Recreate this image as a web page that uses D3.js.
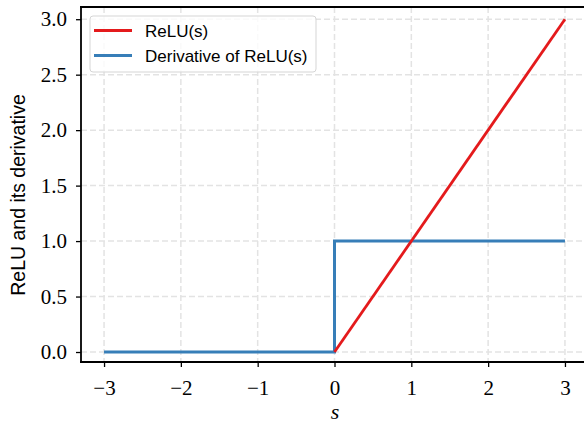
<!DOCTYPE html>
<html>
<head>
<meta charset="utf-8">
<script src="https://cdn.jsdelivr.net/npm/d3@7"></script>
<style>
    body { margin: 0; background: #fff; }
    svg { display: block; }
</style>
</head>
<body>
<svg id="chart" width="584" height="424"></svg>
<script>
// data
let reluS = [0, 3]
let reluY = [0, 3]
let derivS = [-3, 0, 0, 3]
let derivY = [0, 0, 1, 1]
let xTicks = [-3, -2, -1, 0, 1, 2, 3]
let yTicks = [0, 0.5, 1, 1.5, 2, 2.5, 3]
let seriesNames = ['ReLU(s)', 'Derivative of ReLU(s)']
let seriesColors = ['#e41a1c', '#377eb8']

let plotLeft = 81, plotRight = 588, plotTop = 7, plotBottom = 362
let svg = d3.select('#chart')
let xScale = d3.scaleLinear().domain([-3.3, 3.3]).range([plotLeft, plotRight])
let yScale = d3.scaleLinear().domain([-0.09, 3.11]).range([plotBottom, plotTop])

// grid
let grid = svg.append('g')
grid.selectAll('.gx').data(xTicks).enter().append('line')
    .attr('x1', d => xScale(d)).attr('x2', d => xScale(d))
    .attr('y1', plotTop).attr('y2', plotBottom)
grid.selectAll('.gy').data(yTicks).enter().append('line')
    .attr('x1', plotLeft).attr('x2', plotRight)
    .attr('y1', d => yScale(d)).attr('y2', d => yScale(d))
grid.selectAll('line')
    .attr('stroke', '#e3e3e3').attr('stroke-width', 1.5).attr('stroke-dasharray', '6,3')

// lines
let line = d3.line().x(d => xScale(d[0])).y(d => yScale(d[1]))
svg.append('path').datum(derivS.map((s, i) => [s, derivY[i]]))
    .attr('d', line).attr('fill', 'none')
    .attr('stroke', seriesColors[1]).attr('stroke-width', 3)
svg.append('path').datum(reluS.map((s, i) => [s, reluY[i]]))
    .attr('d', line).attr('fill', 'none')
    .attr('stroke', seriesColors[0]).attr('stroke-width', 2.8)

// axes
let serif = '"Liberation Serif", serif'
let sans = '"Liberation Sans", Arial, sans-serif'
let fmtX = d => d < 0 ? '\u2212' + Math.abs(d) : String(d)
let xAxis = svg.append('g').attr('transform', 'translate(0,' + plotBottom + ')')
    .call(d3.axisBottom(xScale).tickValues(xTicks).tickFormat(fmtX).tickSizeOuter(0).tickSize(5).tickPadding(13))
let yAxis = svg.append('g').attr('transform', 'translate(' + plotLeft + ',0)')
    .call(d3.axisLeft(yScale).tickValues(yTicks).tickFormat(d3.format('.1f')).tickSizeOuter(0).tickSize(5).tickPadding(9))
for (let ax of [xAxis, yAxis]) {
    ax.select('.domain').remove()
    ax.selectAll('.tick line').attr('stroke', '#000').attr('stroke-width', 1.3)
    ax.selectAll('.tick text').attr('fill', '#000')
        .style('font-family', serif).style('font-size', '21px')
}

// spines
let spines = [
    [plotLeft, plotTop, plotLeft, plotBottom],
    [plotLeft, plotBottom, plotRight, plotBottom],
    [plotLeft, plotTop, plotRight, plotTop],
    [plotRight, plotTop, plotRight, plotBottom]
]
spines.forEach(s => {
    svg.append('line').attr('x1', s[0]).attr('y1', s[1]).attr('x2', s[2]).attr('y2', s[3])
        .attr('stroke', '#000').attr('stroke-width', 1.8).attr('stroke-linecap', 'square')
})

// axis labels
svg.append('text').attr('x', 335).attr('y', 419).attr('text-anchor', 'middle')
    .style('font-family', serif).style('font-style', 'italic').style('font-size', '22px')
    .text('s')
svg.append('text').attr('transform', 'translate(25,' + 195 + ') rotate(-90)')
    .attr('text-anchor', 'middle')
    .style('font-family', sans).style('font-size', '19.5px')
    .text('ReLU and its derivative')

// legend
let legend = svg.append('g')
legend.append('rect').attr('x', 90).attr('y', 16).attr('width', 226).attr('height', 56)
    .attr('rx', 3).attr('fill', 'rgba(255,255,255,0.8)').attr('stroke', '#d5d5d5').attr('stroke-width', 1)
seriesNames.forEach((name, i) => {
    let y = 30.5 + i * 25
    legend.append('line').attr('x1', 94).attr('x2', 132).attr('y1', y).attr('y2', y)
        .attr('stroke', seriesColors[i]).attr('stroke-width', 3)
    legend.append('text').attr('x', 145).attr('y', y + 6)
        .style('font-family', sans).style('font-size', '17px')
        .text(name)
})
</script>
</body>
</html>
